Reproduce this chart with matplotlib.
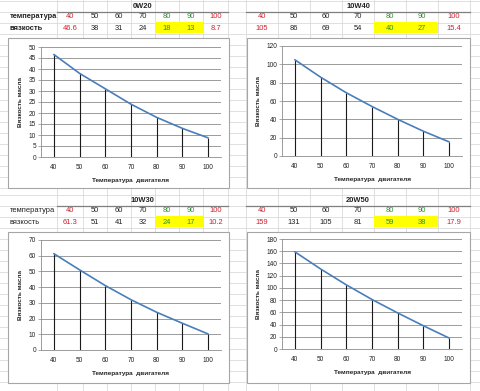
import matplotlib
matplotlib.use("Agg")
import matplotlib.pyplot as plt
from matplotlib.lines import Line2D
from matplotlib.patches import Rectangle

plt.rcParams['font.family'] = ['Liberation Sans', 'DejaVu Sans']

W, H = 480, 391

temps = [40, 50, 60, 70, 80, 90, 100]
names = ["0W20", "10W40", "10W30", "20W50"]
visc_0w20 = [46.6, 38, 31, 24, 18, 13, 8.7]
visc_10w40 = [105, 86, 69, 54, 40, 27, 15.4]
visc_10w30 = [61.3, 51, 41, 32, 24, 17, 10.2]
visc_20w50 = [159, 131, 105, 81, 59, 38, 17.9]
visc_labels = [
    ["46.6", "38", "31", "24", "18", "13", "8.7"],
    ["105", "86", "69", "54", "40", "27", "15.4"],
    ["61.3", "51", "41", "32", "24", "17", "10.2"],
    ["159", "131", "105", "81", "59", "38", "17.9"],
]
ymax = [50, 120, 70, 180]
ystep = [5, 20, 10, 20]
row_label_temp = "температура"
row_label_visc = "вязкость"
xlabel = "Температура  двигателя"
ylabel = "Вязкость масла"

fig = plt.figure(figsize=(W / 100, H / 100), dpi=100)
fig.patch.set_facecolor("white")


def fx(x):
    return x / W


def fy(y):
    return 1 - y / H


def hline(y, x0, x1, color, lw=0.6, z=0):
    fig.add_artist(Line2D([fx(x0), fx(x1)], [fy(y), fy(y)], color=color, lw=lw, zorder=z))


def vline(x, y0, y1, color, lw=0.6, z=0):
    fig.add_artist(Line2D([fx(x), fx(x)], [fy(y0), fy(y1)], color=color, lw=lw, zorder=z))


grid_c = "#dadada"
# background sheet grid
for y in range(1, 195, 11):
    hline(y, 0, W, grid_c)
for y in range(195, 391, 11):
    hline(y, 0, W, grid_c)
left_cols = [57, 83, 107, 131, 155, 179, 203, 228]
right_cols = [246, 278, 310, 342, 374, 406, 438, 470]
for x in left_cols + right_cols:
    vline(x, 0, H, grid_c)

red = "#d0202a"
green = "#2a8f2a"
yellow = "#ffff00"

# tables
tables = [
    (0, left_cols, 0, True),
    (1, right_cols, 0, False),
    (2, left_cols, 194, True),
    (3, right_cols, 194, False),
]
for idx, cols, y0, has_labels in tables:
    title_y = y0 + 6
    temp_y = y0 + 17
    visc_y = y0 + 28
    cx_title = (cols[0] + cols[-1]) / 2
    fig.text(fx(cx_title), fy(title_y), names[idx], ha="center", va="center",
             fontsize=5.4, fontweight="bold", color="#222222")
    hline(y0 + 12, cols[0], cols[-1], "#7f7f7f", lw=0.9, z=2)
    # yellow cells
    fig.add_artist(Rectangle((fx(cols[4]), fy(y0 + 33)), fx(cols[6] - cols[4]), 11 / H,
                             facecolor=yellow, edgecolor="none", zorder=1))
    if has_labels:
        w = "bold" if idx == 0 else "normal"
        fig.text(fx(10), fy(temp_y), row_label_temp, ha="left", va="center",
                 fontsize=5.4, fontweight=w, color="#222222")
        fig.text(fx(10), fy(visc_y), row_label_visc, ha="left", va="center",
                 fontsize=5.4, fontweight=w, color="#222222")
    for i in range(7):
        cx = (cols[i] + cols[i + 1]) / 2
        if i in (0, 6):
            c = red
        elif i in (4, 5):
            c = green
        else:
            c = "#222222"
        fig.text(fx(cx), fy(temp_y), str(temps[i]), ha="center", va="center",
                 fontsize=5.4, color=c, zorder=3)
        fig.text(fx(cx), fy(visc_y), visc_labels[idx][i], ha="center", va="center",
                 fontsize=5.4, color=c, zorder=3)

# chart boxes and axes
boxes = [(8, 38, 229, 188), (247, 38, 470, 188), (8, 232, 229, 383), (247, 232, 470, 383)]
plots = [(41, 47, 221, 157), (282, 46, 462, 156), (41, 240, 221, 350), (282, 239, 462, 349)]
series = [visc_0w20, visc_10w40, visc_10w30, visc_20w50]

for k in range(4):
    bx0, by0, bx1, by1 = boxes[k]
    fig.add_artist(Rectangle((fx(bx0), fy(by1)), fx(bx1 - bx0), (by1 - by0) / H,
                             facecolor="white", edgecolor="#a6a6a6", lw=0.8, zorder=4))
    px0, py0, px1, py1 = plots[k]
    ax = fig.add_axes([fx(px0), fy(py1), fx(px1 - px0), (py1 - py0) / H], zorder=5)
    ax.set_facecolor("none")
    xs = list(range(len(temps)))
    vals = series[k]
    ax.vlines(xs, 0, vals, colors="#1a1a1a", lw=0.8, zorder=2)
    ax.plot(xs, vals, color="#4a7ebb", lw=1.2, zorder=3, solid_capstyle="round")
    ax.set_xlim(-0.5, len(temps) - 0.5)
    ax.set_ylim(0, ymax[k])
    ax.set_yticks(range(0, ymax[k] + 1, ystep[k]))
    ax.set_xticks(xs)
    ax.set_xticklabels([str(t) for t in temps])
    ax.grid(axis="y", color="#8c8c8c", lw=0.6)
    ax.set_axisbelow(True)
    for s in ("top", "right"):
        ax.spines[s].set_visible(False)
    ax.spines["left"].set_color("#8c8c8c")
    ax.spines["bottom"].set_color("#8c8c8c")
    ax.spines["left"].set_linewidth(0.6)
    ax.spines["bottom"].set_linewidth(0.6)
    ax.tick_params(axis="y", labelsize=4.7, length=2, width=0.5, color="#8c8c8c", pad=1.5,
                   labelcolor="#222222")
    ax.tick_params(axis="x", labelsize=4.7, length=0, pad=5, labelcolor="#222222")
    ax.set_xlabel(xlabel, fontsize=4.6, fontweight="bold", labelpad=5, color="#222222")
    ax.set_ylabel(ylabel, fontsize=4.6, fontweight="bold", labelpad=4, color="#222222")

fig.savefig("out.png", dpi=100)
